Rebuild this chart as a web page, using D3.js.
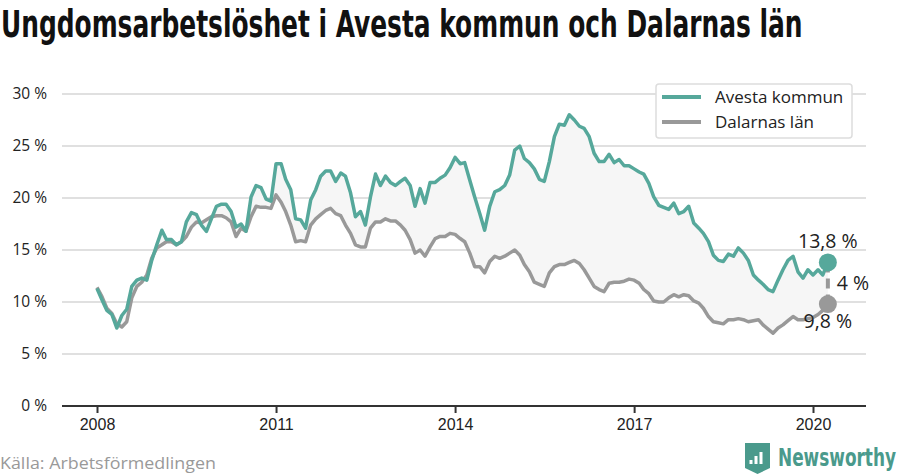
<!DOCTYPE html>
<html>
<head>
<meta charset="utf-8">
<script src="https://cdn.jsdelivr.net/npm/d3@7"></script>
<style>
  body { margin: 0; background: #fff; }
  svg { display: block; font-family: "Open Sans", "Noto Sans", sans-serif; }
  .grid line { stroke: #e0e0e0; stroke-width: 2; }
  .y-axis text { font-size: 15.5px; fill: #222; }
  .x-axis text { font-size: 16px; fill: #222; }
</style>
</head>
<body>
<div id="chart"></div>
<script>
const seriesNames = ["Avesta kommun", "Dalarnas län"];
const startYear = 2008;
// monthly values, jan 2008 - apr 2020
const avesta = [
  11.3, 10.2, 9.2, 8.8, 7.5, 8.7, 9.3, 11.5, 12.1, 12.3, 12.1, 14.0,
  15.5, 16.9, 16.0, 16.0, 15.5, 15.8, 17.7, 18.6, 18.4, 17.4, 16.8, 18.0,
  19.2, 19.4, 19.4, 18.7, 17.2, 17.5, 16.8, 20.1, 21.2, 21.0, 19.9, 19.7,
  23.3, 23.3, 21.8, 20.8, 18.0, 17.9, 17.1, 19.8, 20.8, 22.1, 22.6, 22.6,
  21.6, 22.4, 22.1, 20.5, 18.2, 18.7, 17.4, 20.1, 22.3, 21.2, 22.1, 21.5,
  21.2, 21.6, 21.9, 21.2, 19.2, 20.9, 19.5, 21.5, 21.5, 21.9, 22.2, 22.9,
  23.9, 23.3, 23.4, 21.7, 20.1, 18.5, 16.9, 19.2, 20.6, 20.8, 21.2, 22.2,
  24.6, 25.0, 23.8, 23.4, 22.8, 21.8, 21.6, 23.5, 25.9, 27.1, 27.0, 28.0,
  27.5, 26.9, 26.7, 25.9, 24.3, 23.5, 23.5, 24.2, 23.4, 23.7, 23.1, 23.1,
  22.8, 22.5, 22.3, 21.4, 20.1, 19.3, 19.1, 18.9, 19.5, 18.5, 18.7, 19.2,
  17.6, 17.1, 16.6, 15.8, 14.5, 14.0, 13.9, 14.6, 14.4, 15.2, 14.7, 14.0,
  12.6, 12.1, 11.7, 11.2, 11.0, 12.1, 13.1, 14.0, 14.4, 12.9, 12.3, 13.1,
  12.6, 13.1, 12.6, 13.8
];
const dalarna = [
  11.4, 10.5, 9.4, 8.9, 7.9, 7.6, 8.1, 10.4, 11.5, 11.9, 12.6, 14.2,
  15.2, 15.5, 15.8, 15.8, 15.5, 15.8, 16.3, 17.2, 17.7, 17.6, 17.9, 18.2,
  18.3, 18.3, 18.1, 17.7, 16.3, 17.1, 16.8, 18.2, 19.2, 19.1, 19.1, 19.0,
  20.3, 19.6, 18.7, 17.4, 15.8, 15.9, 15.8, 17.4, 18.0, 18.4, 18.8, 19.0,
  18.5, 18.3, 17.4, 16.6, 15.5, 15.3, 15.3, 17.1, 17.7, 17.7, 18.0, 17.8,
  17.8, 17.4, 16.9, 16.0, 14.7, 15.0, 14.4, 15.3, 16.1, 16.3, 16.3, 16.6,
  16.5, 16.1, 15.8, 14.7, 13.4, 13.4, 12.8, 13.9, 14.4, 14.2, 14.4, 14.7,
  15.0, 14.5, 13.6, 12.9, 11.9, 11.7, 11.5, 12.8, 13.4, 13.6, 13.6, 13.8,
  14.0, 13.7, 13.1, 12.3, 11.5, 11.2, 11.0, 11.8, 11.9, 11.9, 12.0, 12.2,
  12.1, 11.8, 11.2, 10.8, 10.1, 10.0, 10.0, 10.4, 10.7, 10.5, 10.7, 10.6,
  10.1, 9.9, 9.4, 8.6, 8.1, 8.0, 7.9, 8.3, 8.3, 8.4, 8.3, 8.1,
  8.2, 8.3, 7.8, 7.4, 7.0, 7.5, 7.8, 8.2, 8.6, 8.3, 8.3, 8.4,
  8.5, 8.8, 9.2, 9.8
];
const yTicks = [0, 5, 10, 15, 20, 25, 30];
const xTickYears = [2008, 2011, 2014, 2017, 2020];

const colors = ["#56a89b", "#999999"];
const width = 900, height = 474;
const plotLeft = 62, plotRight = 866;
const narrow = "'DejaVu Sans Condensed', 'Roboto', sans-serif";

const data = avesta.map((v, i) => ({
  date: new Date(startYear, i, 1),
  a: v,
  d: dalarna[i]
}));

const svg = d3.select("#chart").append("svg")
  .attr("width", width)
  .attr("height", height);

// squeeze a text horizontally so it spans a given width (keeps its height)
function squeeze(sel, x0, y0, target) {
  const w = sel.node().getComputedTextLength();
  sel.attr("transform", `translate(${x0},${y0}) scale(${target / w},1)`);
}

const x = d3.scaleTime()
  .domain([new Date(2008, 0, 1), new Date(2020, 0, 1)])
  .range([97, 813]);

const y = d3.scaleLinear()
  .domain([0, 30])
  .range([406, 94]);

// Title
const title = svg.append("text")
  .style("font-family", narrow)
  .style("font-weight", "700")
  .style("font-size", "37px")
  .style("fill", "#111")
  .text("Ungdomsarbetslöshet i Avesta kommun och Dalarnas län");
squeeze(title, 1, 37, 802);

// gridlines
svg.append("g")
  .attr("class", "grid")
  .selectAll("line")
  .data(yTicks.filter(t => t > 0))
  .join("line")
  .attr("x1", plotLeft)
  .attr("x2", plotRight)
  .attr("y1", d => y(d))
  .attr("y2", d => y(d));

// y labels
svg.append("g")
  .attr("class", "y-axis")
  .selectAll("text")
  .data(yTicks)
  .join("text")
  .attr("x", 47)
  .attr("y", d => y(d))
  .attr("dy", "0.35em")
  .attr("text-anchor", "end")
  .text(d => d + " %");

// area between the two lines
const area = d3.area()
  .x(d => x(d.date))
  .y0(d => y(d.d))
  .y1(d => y(d.a));

svg.append("path")
  .datum(data)
  .attr("d", area)
  .attr("fill", "#f6f6f6");

// x axis
svg.append("line")
  .attr("x1", plotLeft)
  .attr("x2", plotRight)
  .attr("y1", y(0))
  .attr("y2", y(0))
  .attr("stroke", "#333")
  .attr("stroke-width", 2);

const xAxis = svg.append("g")
  .attr("class", "x-axis")
  .attr("transform", `translate(0,${y(0)})`)
  .call(d3.axisBottom(x)
    .tickValues(xTickYears.map(yr => new Date(yr, 0, 1)))
    .tickFormat(d3.timeFormat("%Y"))
    .tickSize(7)
    .tickPadding(6));
xAxis.select(".domain").remove();
xAxis.selectAll(".tick line").attr("stroke", "#333").attr("stroke-width", 2);

// lines
const lineA = d3.line().x(d => x(d.date)).y(d => y(d.a));
const lineD = d3.line().x(d => x(d.date)).y(d => y(d.d));

svg.append("path")
  .datum(data)
  .attr("d", lineD)
  .attr("fill", "none")
  .attr("stroke", colors[1])
  .attr("stroke-width", 3.5)
  .attr("stroke-linejoin", "round");

svg.append("path")
  .datum(data)
  .attr("d", lineA)
  .attr("fill", "none")
  .attr("stroke", colors[0])
  .attr("stroke-width", 3.5)
  .attr("stroke-linejoin", "round");

// end annotation
const last = data[data.length - 1];
const lx = x(last.date);
const diff = last.a - last.d;
const fmt = v => d3.format(".1f")(v).replace(".", ",") + " %";

svg.append("line")
  .attr("x1", lx).attr("x2", lx)
  .attr("y1", y(last.a)).attr("y2", y(last.d))
  .attr("stroke", "#999")
  .attr("stroke-width", 4)
  .attr("stroke-dasharray", "10,6");

svg.append("circle")
  .attr("cx", lx).attr("cy", y(last.a)).attr("r", 9)
  .attr("fill", colors[0]);
svg.append("circle")
  .attr("cx", lx).attr("cy", y(last.d)).attr("r", 9)
  .attr("fill", colors[1]);

svg.append("text")
  .attr("x", lx)
  .attr("y", y(last.a) - 14)
  .attr("text-anchor", "middle")
  .style("font-size", "19.5px")
  .style("fill", "#222")
  .text(fmt(last.a));

svg.append("text")
  .attr("x", lx)
  .attr("y", y(last.d) + 24)
  .attr("text-anchor", "middle")
  .style("font-size", "19.5px")
  .style("fill", "#222")
  .text(fmt(last.d));

svg.append("text")
  .attr("x", lx + 9)
  .attr("y", (y(last.a) + y(last.d)) / 2 + 7)
  .attr("text-anchor", "start")
  .style("font-size", "19.5px")
  .style("fill", "#222")
  .text(Math.round(diff) + " %");

// legend
const legend = svg.append("g").attr("transform", "translate(656,84)");
legend.append("rect")
  .attr("width", 196)
  .attr("height", 54)
  .attr("rx", 3)
  .attr("fill", "#fff")
  .attr("stroke", "#ddd")
  .attr("stroke-width", 1.5);

seriesNames.forEach((name, i) => {
  const g = legend.append("g").attr("transform", `translate(0,${13 + i * 25})`);
  g.append("line")
    .attr("x1", 6).attr("x2", 45)
    .attr("stroke", colors[i])
    .attr("stroke-width", 4);
  g.append("text")
    .attr("x", 59)
    .attr("dy", "0.35em")
    .style("font-size", "17px")
    .style("fill", "#222")
    .text(name);
});

// footer
const source = svg.append("text")
  .style("font-size", "17px")
  .style("fill", "#999")
  .text("Källa: Arbetsförmedlingen");
squeeze(source, 0, 469, 216);

const logo = svg.append("g").attr("transform", "translate(745,443)");
logo.append("path")
  .attr("d", "M0,0 H25 V25 L12.5,31 L0,25 Z")
  .attr("fill", "#4a9a8c");
[[6, 4], [11, 8], [16, 12]].forEach(([bx, bh]) => {
  logo.append("rect")
    .attr("x", bx - 1.5).attr("y", 21 - bh)
    .attr("width", 3).attr("height", bh)
    .attr("fill", "#fff");
});
const brand = svg.append("text")
  .style("font-family", narrow)
  .style("font-size", "25px")
  .style("font-weight", "700")
  .style("fill", "#4a9a8c")
  .text("Newsworthy");
squeeze(brand, 778, 466, 118);
</script>
</body>
</html>
